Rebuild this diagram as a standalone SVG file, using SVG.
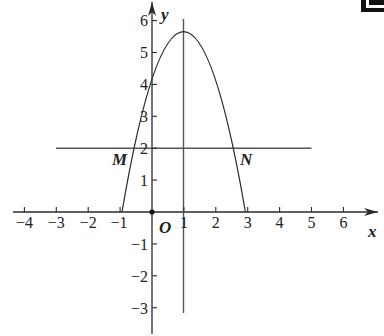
<svg xmlns="http://www.w3.org/2000/svg" width="384" height="336" viewBox="0 0 384 336">
<style>
.ax{stroke:#2a2a2a;stroke-width:1.3;fill:none}
.ln{stroke:#555;stroke-width:1.4;fill:none}
.cv{stroke:#2a2a2a;stroke-width:1.2;fill:none}
.tk{stroke:#2a2a2a;stroke-width:1.1}
.num{font-family:"Liberation Serif","Times New Roman",serif;font-size:16px;fill:#222}
.xn{text-anchor:middle}
.yn{text-anchor:end}
.lab{font-family:"Liberation Serif","Times New Roman",serif;font-size:17px;font-style:italic;font-weight:bold;fill:#222}
</style>
<defs>
<marker id="arr" markerWidth="16" markerHeight="10" refX="14" refY="5" orient="auto" markerUnits="userSpaceOnUse">
<path d="M0,1 L14,5 L0,9 L4,5 Z" fill="#2a2a2a"/>
</marker>
</defs>
<rect width="384" height="336" fill="#fff"/>
<g id="corner">
<rect x="361" y="0" width="23" height="12" fill="#111"/>
<rect x="366" y="0" width="18" height="8" fill="#fff"/>
<rect x="369" y="0" width="15" height="5" fill="#111"/>
</g>
<g id="connectors">
<line id="x-axis" class="ax" x1="13" y1="212" x2="378" y2="212" marker-end="url(#arr)"/>
<line id="y-axis" class="ax" x1="152" y1="334" x2="152" y2="2" marker-end="url(#arr)"/>
<line id="line-x1" class="ln" x1="183.5" y1="19" x2="183.5" y2="313"/>
<line id="line-y2" class="ln" x1="56" y1="148.2" x2="311.5" y2="148.2"/>
<path id="parabola" class="cv" d="M122,212 Q183.5,-148.6 245.4,212"/>
</g>
<g id="ticks">
<line class="tk" x1="24.4" y1="212" x2="24.4" y2="207"/>
<line class="tk" x1="56.3" y1="212" x2="56.3" y2="207"/>
<line class="tk" x1="88.2" y1="212" x2="88.2" y2="207"/>
<line class="tk" x1="120.1" y1="212" x2="120.1" y2="207"/>
<line class="tk" x1="183.9" y1="212" x2="183.9" y2="207"/>
<line class="tk" x1="215.8" y1="212" x2="215.8" y2="207"/>
<line class="tk" x1="247.7" y1="212" x2="247.7" y2="207"/>
<line class="tk" x1="279.6" y1="212" x2="279.6" y2="207"/>
<line class="tk" x1="311.5" y1="212" x2="311.5" y2="207"/>
<line class="tk" x1="343.4" y1="212" x2="343.4" y2="207"/>
<line class="tk" x1="152" y1="20.6" x2="157" y2="20.6"/>
<line class="tk" x1="152" y1="52.5" x2="157" y2="52.5"/>
<line class="tk" x1="152" y1="84.4" x2="157" y2="84.4"/>
<line class="tk" x1="152" y1="116.3" x2="157" y2="116.3"/>
<line class="tk" x1="152" y1="148.2" x2="157" y2="148.2"/>
<line class="tk" x1="152" y1="180.1" x2="157" y2="180.1"/>
<line class="tk" x1="152" y1="243.9" x2="157" y2="243.9"/>
<line class="tk" x1="152" y1="275.8" x2="157" y2="275.8"/>
<line class="tk" x1="152" y1="307.7" x2="157" y2="307.7"/>
</g>
<g id="origin">
<circle cx="152" cy="212" r="2.6" fill="#111"/>
<text class="lab" x="159" y="233">O</text>
</g>
<g id="point-M">
<text class="lab" x="112" y="165">M</text>
</g>
<g id="point-N">
<text class="lab" x="240" y="165">N</text>
</g>
<g id="axis-labels">
<text class="lab" x="161" y="20">y</text>
<text class="lab" x="368" y="237">x</text>
</g>
<g id="x-numbers" class="num xn">
<text x="24.4" y="228">−4</text>
<text x="56.3" y="228">−3</text>
<text x="88.2" y="228">−2</text>
<text x="119" y="228">−1</text>
<text x="184" y="228">1</text>
<text x="215.8" y="228">2</text>
<text x="247.7" y="228">3</text>
<text x="279.6" y="228">4</text>
<text x="311.5" y="228">5</text>
<text x="343.4" y="228">6</text>
</g>
<g id="y-numbers" class="num yn">
<text x="148" y="26">6</text>
<text x="148" y="58">5</text>
<text x="148" y="90">4</text>
<text x="148" y="122">3</text>
<text x="148" y="154">2</text>
<text x="148" y="186">1</text>
<text x="148" y="249.5">−1</text>
<text x="148" y="282">−2</text>
<text x="148" y="314">−3</text>
</g>
</svg>
